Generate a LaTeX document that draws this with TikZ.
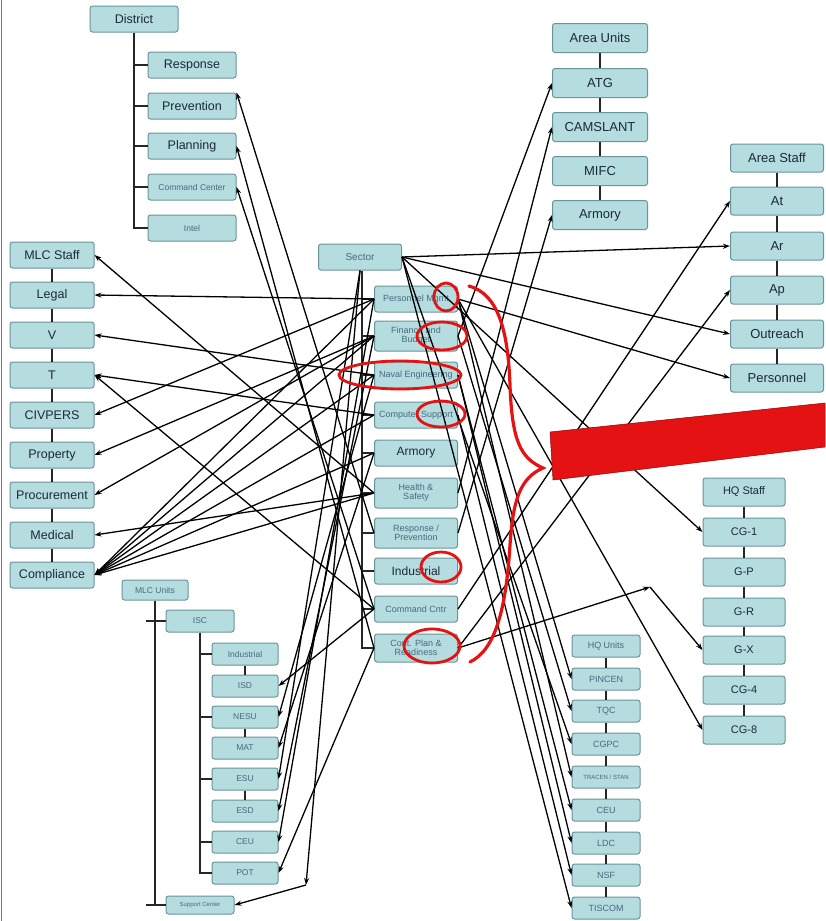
\documentclass[tikz,border=0pt]{standalone}
\usepackage{fontspec}
\setmainfont{Liberation Sans}
\usetikzlibrary{arrows.meta}
\definecolor{bfill}{HTML}{B5DCDF}
\definecolor{bline}{HTML}{6A949B}
\definecolor{btext}{HTML}{1A2A3A}
\definecolor{ftext}{HTML}{466A80}
\definecolor{redm}{HTML}{E41212}
\definecolor{frame}{HTML}{7070B0}
\newcommand\setfs[1]{\fontsize{#1}{#1}\selectfont}
\begin{document}
\begin{tikzpicture}[x=1pt,y=-1pt,
  box/.style={draw=bline, line width=1pt, fill=bfill, rounded corners=2.5pt, inner sep=1pt, text=btext, align=center},
  dbox/.style={box, minimum width=88pt, minimum height=26pt, font=\setfs{12.5}},
  lbox/.style={box, minimum width=84pt, minimum height=26pt, font=\setfs{12.5}},
  cbox/.style={box, minimum width=83pt, minimum height=26pt, font=\setfs{9}, text=ftext},
  abox/.style={box, minimum width=95pt, minimum height=29pt, font=\setfs{13}},
  sbox/.style={box, minimum width=93pt, minimum height=28pt, font=\setfs{13}},
  hbox/.style={box, minimum width=82pt, minimum height=28pt, font=\setfs{11}},
  ubox/.style={box, minimum width=68pt, minimum height=22pt, font=\setfs{9}, text=ftext},
  mbox/.style={box, minimum width=66pt, minimum height=22pt, font=\setfs{8.5}, text=ftext},
  tree/.style={line width=2pt, black!85},
  conn/.style={line width=1.3pt, black, -{Stealth[length=7pt,width=5pt]}},
  redmark/.style={draw=redm, line width=2.8pt}
]
\useasboundingbox (0,0) rectangle (825,921);
\draw[frame, line width=1.2pt] (1.5,0) -- (1.5,921);

% District
\node[dbox] (district) at (134,19) {District};
\node[dbox] (dresp) at (192,65) {Response};
\node[dbox] (dprev) at (192,106) {Prevention};
\node[dbox] (dplan) at (192,146) {Planning};
\node[dbox, font=\setfs{8.5}, text=ftext] (dcmd) at (192,187) {Command Center};
\node[dbox, font=\setfs{8.5}, text=ftext] (dintel) at (192,228) {Intel};
\draw[tree] (district.south) -- (district.south |- dintel.west) -- (dintel.west);
\foreach \n in {dresp,dprev,dplan,dcmd} \draw[tree] (district.south |- \n.west) -- (\n.west);

% MLC staff column
\node[lbox] (mlcs) at (52,255) {MLC Staff};
\node[lbox] (legal) at (52,295) {Legal};
\node[lbox] (vv) at (52,335) {V};
\node[lbox] (tt) at (52,375) {T};
\node[lbox] (civ) at (52,415) {CIVPERS};
\node[lbox] (prop) at (52,455) {Property};
\node[lbox] (proc) at (52,495) {Procurement};
\node[lbox] (med) at (52,535) {Medical};
\node[lbox] (comp) at (52,575) {Compliance};
\draw[tree] (mlcs) -- (legal); \draw[tree] (legal) -- (vv); \draw[tree] (vv) -- (tt);
\draw[tree] (tt) -- (civ); \draw[tree] (civ) -- (prop); \draw[tree] (prop) -- (proc);
\draw[tree] (proc) -- (med); \draw[tree] (med) -- (comp);

% Sector column
\node[cbox, font=\setfs{10}] (sector) at (360,257) {Sector};
\node[cbox] (pm) at (416,299) {Personnel Mgmt};
\node[cbox, minimum height=30pt] (fb) at (416,336) {Finance and\\Budget};
\node[cbox] (ne) at (416,375) {Naval Engineering};
\node[cbox] (cs) at (416,415) {Computer Support};
\node[cbox, font=\setfs{12}, text=btext] (arm) at (416,453) {Armory};
\node[cbox, minimum height=30pt] (hs) at (416,493) {Health \&\\Safety};
\node[cbox, minimum height=30pt] (rp) at (416,533) {Response /\\Prevention};
\node[cbox, font=\setfs{12}, text=btext] (ind) at (416,571) {Industrial};
\node[cbox] (cmd) at (416,609) {Command Cntr};
\node[cbox, minimum height=28pt] (cplan) at (416,648) {Cont. Plan \&\\Readiness};
\draw[tree] ([xshift=2pt]sector.south) -- ([xshift=2pt]sector.south |- cplan.west) -- (cplan.west);
\foreach \n in {pm,fb,ne,cs,arm,hs,rp,ind,cmd} \draw[tree] ([xshift=2pt]sector.south |- \n.west) -- (\n.west);

% Area units
\node[abox] (au) at (600,38) {Area Units};
\node[abox] (atg) at (600,83) {ATG};
\node[abox] (cam) at (600,127) {CAMSLANT};
\node[abox] (mifc) at (600,171) {MIFC};
\node[abox] (aarm) at (600,215) {Armory};
\draw[tree] (au) -- (atg); \draw[tree] (atg) -- (cam); \draw[tree] (cam) -- (mifc); \draw[tree] (mifc) -- (aarm);

% Area staff
\node[sbox] (ast) at (777,158) {Area Staff};
\node[sbox] (stAt) at (777,201) {At};
\node[sbox] (stAr) at (777,246) {Ar};
\node[sbox] (stAp) at (777,290) {Ap};
\node[sbox] (outr) at (777,334) {Outreach};
\node[sbox] (pers) at (777,378) {Personnel};
\draw[tree] (ast) -- (stAt); \draw[tree] (stAt) -- (stAr); \draw[tree] (stAr) -- (stAp);
\draw[tree] (stAp) -- (outr); \draw[tree] (outr) -- (pers);

% HQ staff
\node[hbox] (hqs) at (744,492) {HQ Staff};
\node[hbox] (cg1) at (744,532) {CG-1};
\node[hbox] (gp) at (744,572) {G-P};
\node[hbox] (gr) at (744,612) {G-R};
\node[hbox] (gx) at (744,650) {G-X};
\node[hbox] (cg4) at (744,690) {CG-4};
\node[hbox] (cg8) at (744,730) {CG-8};
\draw[tree] (hqs) -- (cg1); \draw[tree] (cg1) -- (gp); \draw[tree] (gp) -- (gr);
\draw[tree] (gr) -- (gx); \draw[tree] (gx) -- (cg4); \draw[tree] (cg4) -- (cg8);

% HQ units
\node[ubox] (hqu) at (606,646) {HQ Units};
\node[ubox] (pinc) at (606,679) {PINCEN};
\node[ubox] (tqc) at (606,711) {TQC};
\node[ubox] (cgpc) at (606,744) {CGPC};
\node[ubox, font=\setfs{6}] (trac) at (606,777) {TRACEN / STAN};
\node[ubox] (ceu) at (606,810) {CEU};
\node[ubox] (ldc) at (606,843) {LDC};
\node[ubox] (nsf) at (606,875) {NSF};
\node[ubox] (tis) at (606,908) {TISCOM};
\draw[tree] (hqu) -- (pinc); \draw[tree] (pinc) -- (tqc); \draw[tree] (tqc) -- (cgpc);
\draw[tree] (cgpc) -- (trac); \draw[tree] (trac) -- (ceu); \draw[tree] (ceu) -- (ldc);
\draw[tree] (ldc) -- (nsf); \draw[tree] (nsf) -- (tis);

% MLC units
\node[mbox, minimum height=20pt] (mlcu) at (155,590) {MLC Units};
\node[mbox, minimum width=68pt] (isc) at (200,621) {ISC};
\node[mbox] (mind) at (245,654) {Industrial};
\node[mbox] (isd) at (245,686) {ISD};
\node[mbox] (nesu) at (245,717) {NESU};
\node[mbox] (mat) at (245,748) {MAT};
\node[mbox] (esu) at (245,779) {ESU};
\node[mbox] (esd) at (245,811) {ESD};
\node[mbox] (mceu) at (245,842) {CEU};
\node[mbox] (pot) at (245,873) {POT};
\node[mbox, minimum width=68pt, minimum height=18pt, font=\setfs{6}] (supc) at (200,905) {Support Center};
\draw[tree] (mlcu.south) -- (mlcu.south |- supc.west);
\draw[tree] ([xshift=-9pt]mlcu.south |- isc.west) -- (isc.west);
\draw[tree] ([xshift=-9pt]mlcu.south |- supc.west) -- (supc.west);
\draw[tree] (isc.south) -- (isc.south |- pot.west) -- (pot.west);
\foreach \n in {mind,nesu,esu,mceu} \draw[tree] (isc.south |- \n.west) -- (\n.west);
\draw[tree] (mind) -- (isd); \draw[tree] (nesu) -- (mat); \draw[tree] (esu) -- (esd);

% Connectors to MLC staff
\draw[conn] (pm.west) -- (legal.east);
\draw[conn] (ne.west) -- (vv.east);
\draw[conn] (cs.west) -- (tt.east);
\draw[conn] (cmd.west) -- (tt.east);
\draw[conn] (hs.west) -- (mlcs.east);
\draw[conn] (pm.west) -- (civ.east);
\draw[conn] (fb.west) -- (prop.east);
\draw[conn] (fb.west) -- (proc.east);
\draw[conn] (hs.west) -- (med.east);
\foreach \n in {pm,fb,ne,cs,arm,hs} \draw[conn] (\n.west) -- (comp.east);

% Connectors to District
\draw[conn] (rp.west) -- (dprev.north east);
\draw[conn] (cplan.west) -- (dplan.east);
\draw[conn] (cmd.west) -- (dcmd.east);

% Connectors to Area staff / HQ staff
\draw[conn] (sector.east) -- (stAr.west);
\draw[conn] (sector.east) -- (outr.west);
\draw[conn] (pm.east) -- (pers.west);
\draw[conn] (sector.east) -- (cg1.west);
\draw[conn] (pm.east) -- (cg8.west);
\draw[conn] (cmd.east) -- (stAt.west);
\draw[conn] (cplan.east) -- (stAp.west);
\coordinate (gxbend) at (650,587);
\draw[conn] (cplan.east) -- (gxbend);
\draw[conn] (gxbend) -- (gx.west);

% Connectors to Area units
\draw[conn] (fb.east) -- (atg.west);
\draw[conn] (hs.east) -- (cam.west);
\draw[conn] (rp.east) -- (aarm.west);

% Connectors to HQ units
\draw[conn] (pm.east) -- (pinc.west);
\draw[conn] (fb.east) -- (tqc.west);
\draw[conn] (sector.east) -- (cgpc.west);
\draw[conn] (pm.east) -- (trac.west);
\draw[conn] (ne.east) -- (ceu.west);
\draw[conn] (ne.east) -- (ldc.west);
\draw[conn] (cs.east) -- (nsf.west);
\draw[conn] (sector.east) -- (tis.west);

% Connectors to MLC units
\draw[conn] (cmd.west) -- (isd.east);
\draw[conn] (ne.west) -- (nesu.east);
\draw[conn] (arm.west) -- (mat.east);
\draw[conn] (sector.south) -- (esu.east);
\draw[conn] (fb.west) -- (esd.east);
\draw[conn] (pm.west) -- (mceu.east);
\draw[conn] (cplan.west) -- (pot.east);
\coordinate (scbend) at (306,885);
\draw[conn] (sector.south) -- (scbend);
\draw[conn] (scbend) -- (supc.east);

% Red marks
\draw[redmark] (446,297) ellipse [x radius=12pt, y radius=14pt];
\draw[redmark] (442,336) ellipse [x radius=25pt, y radius=14pt];
\draw[redmark] (400,375) ellipse [x radius=61pt, y radius=14pt];
\draw[redmark] (441,414) ellipse [x radius=24pt, y radius=13pt];
\draw[redmark] (441,567) ellipse [x radius=20pt, y radius=15pt];
\draw[redmark] (432,646) ellipse [x radius=28pt, y radius=17pt];
\draw[redm, line width=3.2pt, line cap=round] (469,286) .. controls (498,294) and (508,330) .. (510,385)
  .. controls (512,440) and (520,458) .. (543,468)
  .. controls (520,478) and (513,500) .. (510,545)
  .. controls (506,610) and (495,650) .. (470,662);
\fill[redm, draw=red!60!black, line width=0.5pt] (550,432) -- (825,403) -- (825,447) -- (553,480) -- cycle;
\end{tikzpicture}
\end{document}
